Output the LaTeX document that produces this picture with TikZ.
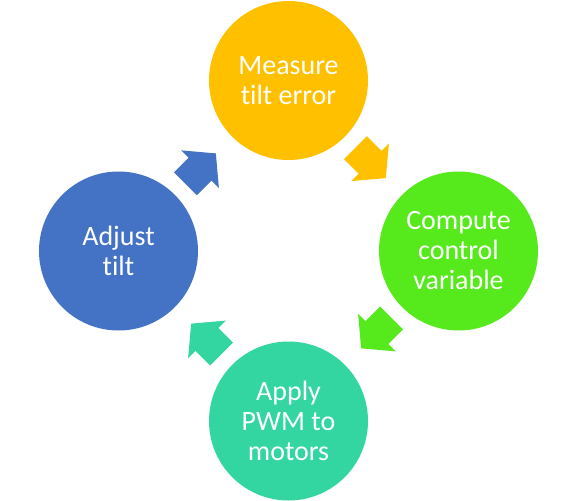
\documentclass[tikz,border=0pt]{standalone}
\usepackage{fontspec}
\setmainfont{Carlito}[Ligatures=NoCommon]
\usetikzlibrary{shapes, arrows, positioning, calc}
\definecolor{measurecol}{HTML}{FFC000}
\definecolor{computecol}{HTML}{56E91C}
\definecolor{applycol}{HTML}{33D6A0}
\definecolor{adjustcol}{HTML}{4472C4}
\begin{document}
\begin{tikzpicture}[x=1bp, y=-1bp, font=\fontsize{28bp}{30bp}\selectfont,
		phase/.style={circle, minimum size=159bp, inner sep=0pt, text=white, align=center},
		turn/.style={single arrow, minimum height=43bp, minimum width=53bp, inner xsep=0pt, inner ysep=16bp,
			single arrow head extend=10.5bp, single arrow tip angle=100}]
		\useasboundingbox (0,0) rectangle (576,501);
		\node [phase, fill=measurecol] (measure) at (288.5,80.5) {Measure\\tilt error};
		\node [phase, fill=computecol] (compute) at (458.5,251) {Compute\\control\\variable};
		\node [phase, fill=applycol] (apply) at (288.5,421) {Apply\\PWM to\\motors};
		\node [phase, fill=adjustcol] (adjust) at (118.5,251) {Adjust\\tilt};
		\node [turn, fill=measurecol, rotate=-45] (measuretocompute) at ($(measure)!0.455!(compute)$) {};
		\node [turn, fill=computecol, rotate=-135] (computetoapply) at ($(compute)!0.455!(apply)$) {};
		\node [turn, fill=applycol, rotate=135] (applytoadjust) at ($(apply)!0.455!(adjust)$) {};
		\node [turn, fill=adjustcol, rotate=45] (adjusttomeasure) at ($(adjust)!0.455!(measure)$) {};
	\end{tikzpicture}
\end{document}
